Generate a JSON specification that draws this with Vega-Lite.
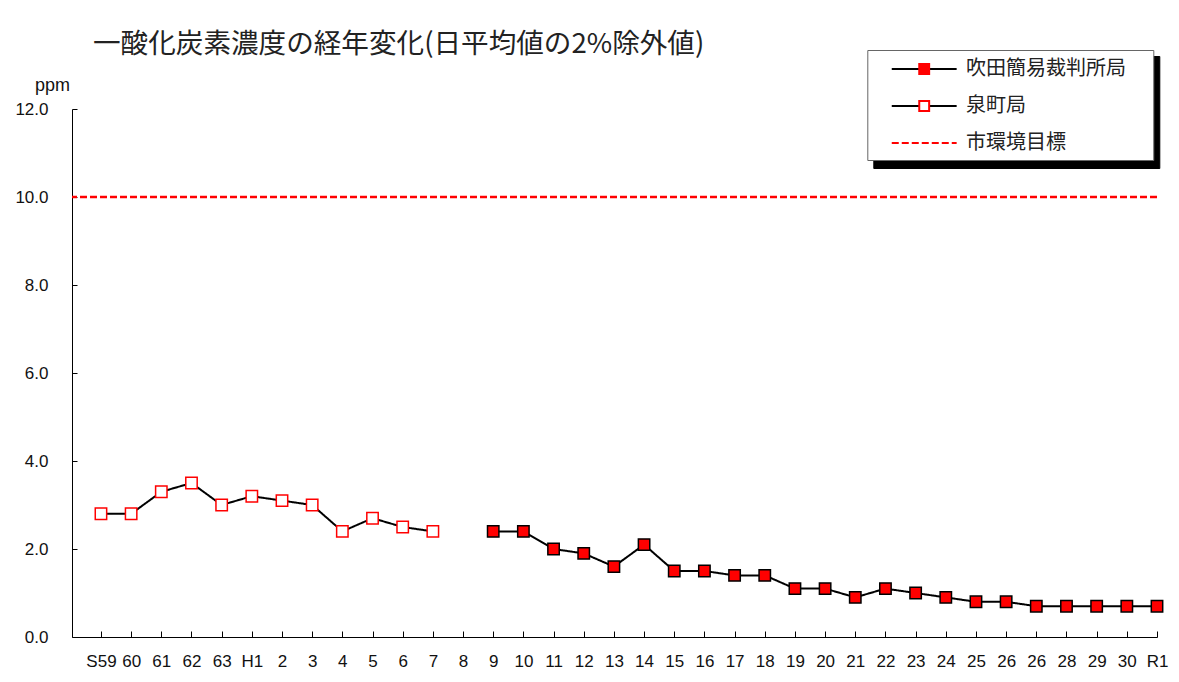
{
  "$schema": "https://vega.github.io/schema/vega-lite/v6.json",
  "width": 1085,
  "height": 528,
  "autosize": {"type": "none"},
  "padding": {"left": 72, "top": 109, "right": 22, "bottom": 45},
  "background": "white",
  "title": {
    "text": "一酸化炭素濃度の経年変化(日平均値の2%除外値)",
    "anchor": "start",
    "frame": "group",
    "dx": 21,
    "font": "Noto Sans CJK JP",
    "fontSize": 27.6,
    "fontWeight": "normal",
    "color": "#222222",
    "offset": -9
  },
  "datasets": {
    "stations": [
      {"year": "S59", "series": "泉町局", "value": 2.8},
      {"year": "60", "series": "泉町局", "value": 2.8},
      {"year": "61", "series": "泉町局", "value": 3.3},
      {"year": "62", "series": "泉町局", "value": 3.5},
      {"year": "63", "series": "泉町局", "value": 3.0},
      {"year": "H1", "series": "泉町局", "value": 3.2},
      {"year": "2", "series": "泉町局", "value": 3.1},
      {"year": "3", "series": "泉町局", "value": 3.0},
      {"year": "4", "series": "泉町局", "value": 2.4},
      {"year": "5", "series": "泉町局", "value": 2.7},
      {"year": "6", "series": "泉町局", "value": 2.5},
      {"year": "7", "series": "泉町局", "value": 2.4},
      {"year": "9", "series": "吹田簡易裁判所局", "value": 2.4},
      {"year": "10", "series": "吹田簡易裁判所局", "value": 2.4},
      {"year": "11", "series": "吹田簡易裁判所局", "value": 2.0},
      {"year": "12", "series": "吹田簡易裁判所局", "value": 1.9},
      {"year": "13", "series": "吹田簡易裁判所局", "value": 1.6},
      {"year": "14", "series": "吹田簡易裁判所局", "value": 2.1},
      {"year": "15", "series": "吹田簡易裁判所局", "value": 1.5},
      {"year": "16", "series": "吹田簡易裁判所局", "value": 1.5},
      {"year": "17", "series": "吹田簡易裁判所局", "value": 1.4},
      {"year": "18", "series": "吹田簡易裁判所局", "value": 1.4},
      {"year": "19", "series": "吹田簡易裁判所局", "value": 1.1},
      {"year": "20", "series": "吹田簡易裁判所局", "value": 1.1},
      {"year": "21", "series": "吹田簡易裁判所局", "value": 0.9},
      {"year": "22", "series": "吹田簡易裁判所局", "value": 1.1},
      {"year": "23", "series": "吹田簡易裁判所局", "value": 1.0},
      {"year": "24", "series": "吹田簡易裁判所局", "value": 0.9},
      {"year": "25", "series": "吹田簡易裁判所局", "value": 0.8},
      {"year": "26", "series": "吹田簡易裁判所局", "value": 0.8},
      {"year": "27", "series": "吹田簡易裁判所局", "value": 0.7},
      {"year": "28", "series": "吹田簡易裁判所局", "value": 0.7},
      {"year": "29", "series": "吹田簡易裁判所局", "value": 0.7},
      {"year": "30", "series": "吹田簡易裁判所局", "value": 0.7},
      {"year": "R1", "series": "吹田簡易裁判所局", "value": 0.7}
    ],
    "target": [
      {"series": "市環境目標", "value": 10}
    ],
    "keys": [
      {"series": "吹田簡易裁判所局"},
      {"series": "泉町局"},
      {"series": "市環境目標"}
    ],
    "key1": [
      {"series": "吹田簡易裁判所局"}
    ]
  },
  "layer": [
    {
      "layer": [
        {
          "data": {"name": "target"},
          "mark": {"type": "rule", "strokeWidth": 2.5},
          "encoding": {
            "y": {"field": "value", "type": "quantitative"},
            "stroke": {"field": "series", "type": "nominal"},
            "strokeDash": {"field": "series", "type": "nominal", "legend": null}
          }
        },
        {
          "data": {"name": "stations"},
          "mark": {"type": "line", "strokeWidth": 2},
          "encoding": {
            "x": {
              "field": "year",
              "type": "nominal",
              "sort": ["S59","60","61","62","63","H1","2","3","4","5","6","7","8","9","10","11","12","13","14","15","16","17","18","19","20","21","22","23","24","25","26","27","28","29","30","R1"],
              "scale": {
                "type": "point",
                "domain": ["S59","60","61","62","63","H1","2","3","4","5","6","7","8","9","10","11","12","13","14","15","16","17","18","19","20","21","22","23","24","25","26","27","28","29","30","R1"],
                "padding": 0.48,
                "align": 1
              },
              "axis": {"title": null}
            },
            "y": {
              "field": "value",
              "type": "quantitative",
              "scale": {"domain": [0, 12], "nice": false, "zero": true},
              "axis": {"title": "ppm", "values": [0, 2, 4, 6, 8, 10, 12], "format": ".1f"}
            },
            "stroke": {
              "field": "series",
              "type": "nominal",
              "scale": {
                "domain": ["吹田簡易裁判所局", "泉町局", "市環境目標"],
                "range": ["black", "black", "red"]
              },
              "legend": {
                "orient": "none",
                "legendX": 795.3,
                "legendY": -59,
                "title": "■",
                "titleOrient": "right",
                "titleOpacity": 0,
                "titleFont": "Noto Sans CJK JP",
                "titleFontSize": 15,
                "titlePadding": 4,
                "padding": 7,
                "rowPadding": 15,
                "symbolType": "M-2.95,0H2.95",
                "symbolSize": 484,
                "symbolStrokeWidth": 2,
                "symbolOffset": 37.9,
                "labelOffset": 29.8,
                "labelFont": "Noto Sans CJK JP",
                "labelFontSize": 20,
                "labelColor": "#222222",
                "labelLimit": 400,
                "strokeColor": "#666666",
                "fillColor": "white",
                "zindex": 1
              }
            },
            "strokeDash": {
              "field": "series",
              "type": "nominal",
              "scale": {
                "domain": ["吹田簡易裁判所局", "泉町局", "市環境目標"],
                "range": [[1, 0], [1, 0], [7, 3]]
              },
              "legend": null
            }
          }
        }
      ]
    },
    {
      "data": {"name": "stations"},
      "mark": {"type": "point", "shape": "square", "filled": true, "size": 130, "strokeWidth": 1.5, "opacity": 1},
      "encoding": {
        "x": {"field": "year", "type": "nominal"},
        "y": {"field": "value", "type": "quantitative"},
        "fill": {
          "field": "series",
          "type": "nominal",
          "scale": {
            "domain": ["吹田簡易裁判所局", "泉町局"],
            "range": ["red", "white"]
          },
          "legend": {
            "orient": "none",
            "legendX": 795.3,
            "legendY": -59,
            "title": "■",
            "titleOrient": "right",
            "titleOpacity": 0,
            "titleFont": "Noto Sans CJK JP",
            "titleFontSize": 15,
            "titlePadding": 4,
            "padding": 7,
            "rowPadding": 15,
            "symbolType": "M-0.45,-0.45H0.45V0.45H-0.45Z",
            "symbolSize": 484,
            "symbolStrokeWidth": 2,
            "symbolStrokeColor": "red",
            "symbolOffset": 37.9,
            "labelOffset": 29.8,
            "labelFont": "Noto Sans CJK JP",
            "labelFontSize": 20,
            "labelOpacity": 0,
            "labelLimit": 400,
            "zindex": 2
          }
        },
        "stroke": {
          "condition": {"test": "datum.series == '泉町局'", "value": "red"},
          "value": "black"
        }
      }
    },
    {
      "data": {"name": "key1"},
      "mark": {"type": "point", "shape": "square", "filled": true, "fill": "red", "stroke": "black", "opacity": 0},
      "encoding": {
        "fillOpacity": {
          "field": "series",
          "type": "ordinal",
          "scale": {"domain": ["吹田簡易裁判所局"], "range": [1]},
          "legend": {
            "orient": "none",
            "legendX": 795.3,
            "legendY": -59,
            "title": "■",
            "titleOrient": "right",
            "titleOpacity": 0,
            "titleFont": "Noto Sans CJK JP",
            "titleFontSize": 15,
            "titlePadding": 4,
            "padding": 7,
            "rowPadding": 15,
            "symbolType": "M-0.45,-0.45H0.45V0.45H-0.45Z",
            "symbolSize": 484,
            "symbolStrokeWidth": 2,
            "symbolFillColor": "red",
            "symbolStrokeColor": "black",
            "symbolOffset": 37.9,
            "labelOffset": 29.8,
            "labelFont": "Noto Sans CJK JP",
            "labelFontSize": 20,
            "labelOpacity": 0,
            "labelLimit": 400,
            "zindex": 3
          }
        }
      }
    },
    {
      "data": {"name": "keys"},
      "mark": {"type": "point", "opacity": 0},
      "encoding": {
        "shape": {
          "field": "series",
          "type": "nominal",
          "legend": {
            "orient": "none",
            "legendX": 801.3,
            "legendY": -53,
            "title": "■",
            "titleOrient": "right",
            "titleOpacity": 0,
            "titleFont": "Noto Sans CJK JP",
            "titleFontSize": 15,
            "titlePadding": 4,
            "padding": 7,
            "rowPadding": 15,
            "symbolSize": 484,
            "symbolStrokeWidth": 2,
            "symbolOffset": 37.9,
            "labelOffset": 29.8,
            "labelFont": "Noto Sans CJK JP",
            "labelFontSize": 20,
            "labelOpacity": 0,
            "symbolOpacity": 0,
            "labelLimit": 400,
            "fillColor": "black",
            "strokeColor": "black",
            "zindex": 0
          }
        }
      }
    }
  ],
  "config": {
    "view": {"stroke": null},
    "axisX": {
      "labelAngle": 0,
      "labelFont": "Liberation Sans",
      "labelFontSize": 17,
      "labelColor": "#111111",
      "labelBaseline": "top",
      "labelPadding": 22,
      "labelExpr": "datum.value == '27' ? '26' : datum.value",
      "tickSize": -6,
      "tickColor": "black",
      "domainColor": "black",
      "grid": false
    },
    "axisY": {
      "labelFont": "Liberation Sans",
      "labelFontSize": 17,
      "labelColor": "#111111",
      "labelPadding": 29,
      "tickSize": -5,
      "tickColor": "black",
      "domainColor": "black",
      "grid": false,
      "titleAngle": 0,
      "titleX": -20,
      "titleY": -24,
      "titleAlign": "center",
      "titleBaseline": "middle",
      "titleFont": "Liberation Sans",
      "titleFontSize": 18,
      "titleFontWeight": "normal",
      "titleColor": "#111111"
    }
  }
}
